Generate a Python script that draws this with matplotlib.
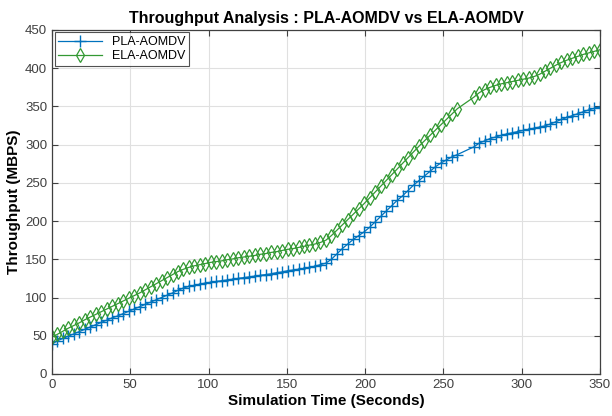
import matplotlib
matplotlib.use('Agg')
import matplotlib.pyplot as plt

plt.rcParams['font.family'] = ['Liberation Sans', 'DejaVu Sans']

# simulation time (s) at which samples were taken
t_a = [0, 3.5, 7, 10.5, 14, 17.5, 21, 24.5, 28, 31.5, 35, 38.5, 42, 45.5, 49,
       52.5, 56, 59.5, 63, 66.5, 70, 73.5, 77, 80.5, 84, 87.5, 91, 94.5, 98,
       101.5, 105, 108.5, 112, 115.5, 119, 122.5, 126, 129.5, 133, 136.5, 140,
       143.5, 147, 150.5, 154, 157.5, 161, 164.5, 168, 171.5, 175, 178.5, 182,
       185.5, 189, 192.5, 196, 199.5, 203, 206.5, 210, 213.5, 217, 220.5, 224,
       227.5, 231, 234.5, 238, 241.5, 245, 248.5, 252, 255.5, 259]
t_b = [269.5, 273, 276.5, 280, 283.5, 287, 290.5, 294, 297.5, 301, 304.5, 308,
       311.5, 315, 318.5, 322, 325.5, 329, 332.5, 336, 339.5, 343, 346.5, 350]
time = t_a + t_b

pla = [39, 43.5, 46.5, 49.5, 52.5, 55.5, 58.5, 61.5, 64.5, 67.5, 70.5, 73.5, 76, 79, 82,
       85, 88, 91, 94, 97, 100, 103, 106, 109.5, 112.5, 114.5, 116, 117.5, 119,
       120, 121, 122, 123, 124, 125, 126, 127, 128, 129, 130, 131,
       132.5, 133.5, 135, 136, 137, 138, 139.5, 141, 143, 145, 150, 157,
       164, 170, 176, 181, 186, 192, 199, 206, 213, 220, 227, 233,
       240, 247, 253, 259, 265, 271, 276, 280, 284, 287,
       297, 302, 305, 308, 310, 312, 314, 315.5, 317, 318.5, 320, 321.5,
       323, 324.5, 327, 330, 333, 335.5, 338, 340.5, 343, 345.5, 347.5, 349.5]

ela = [48, 52, 56, 60, 63.5, 67, 71, 74.5, 78, 81.5, 85, 88.5, 92, 95.5, 99,
       102.5, 106, 110, 114, 118, 122, 126, 130, 134, 137, 139.5, 141.5, 143, 144.5,
       146, 147, 148, 149.5, 150.5, 152, 153, 154, 155, 156.5, 157.5, 159,
       160, 161.5, 163, 164, 165.5, 167, 168.5, 170, 172, 175, 181, 188,
       195, 202, 209, 216, 223, 230.5, 238, 245.5, 253, 260.5, 268, 275.5,
       283, 290.5, 298, 305, 312, 319, 326, 333, 340, 347,
       362, 368, 372, 375, 377.5, 379.5, 381, 382.5, 384, 385.5, 387, 389,
       392, 396, 400, 404, 407.5, 410.5, 413, 415.5, 418, 420, 422, 424]

fig = plt.figure(figsize=(6.12, 4.16), dpi=100)
ax = fig.add_axes([0.085, 0.101, 0.895, 0.827])

ax.plot(time, pla, color='#0072BD', marker='+', markersize=8, linewidth=0.9,
        markeredgewidth=1.0, label='PLA-AOMDV')
ax.plot(time, ela, color='#339933', marker='d', markersize=7, linewidth=0.9,
        markerfacecolor='none', markeredgewidth=0.9, label='ELA-AOMDV')

ax.set_xlim(0, 350)
ax.set_ylim(0, 450)
ax.set_xticks(range(0, 351, 50))
ax.set_yticks(range(0, 451, 50))
ax.grid(True, color='#e0e0e0', linewidth=0.8)
ax.set_axisbelow(True)
ax.tick_params(direction='in', top=True, right=True, labelsize=9.5,
               colors='#404040', length=4)
for s in ax.spines.values():
    s.set_color('#404040')
    s.set_linewidth(0.9)

ax.set_title('Throughput Analysis : PLA-AOMDV vs ELA-AOMDV', fontsize=11.5,
             fontweight='bold', pad=5)
ax.set_xlabel('Simulation Time (Seconds)', fontsize=11, fontweight='bold', labelpad=2)
ax.set_ylabel('Throughput (MBPS)', fontsize=11, fontweight='bold', labelpad=3)

leg = ax.legend(loc='upper left', fontsize=9, frameon=True, fancybox=False,
                borderaxespad=0.2, handlelength=3.5, borderpad=0.3,
                labelspacing=0.15)
leg.get_frame().set_edgecolor('#262626')
leg.get_frame().set_linewidth(0.8)

fig.savefig('out.png', dpi=100)
